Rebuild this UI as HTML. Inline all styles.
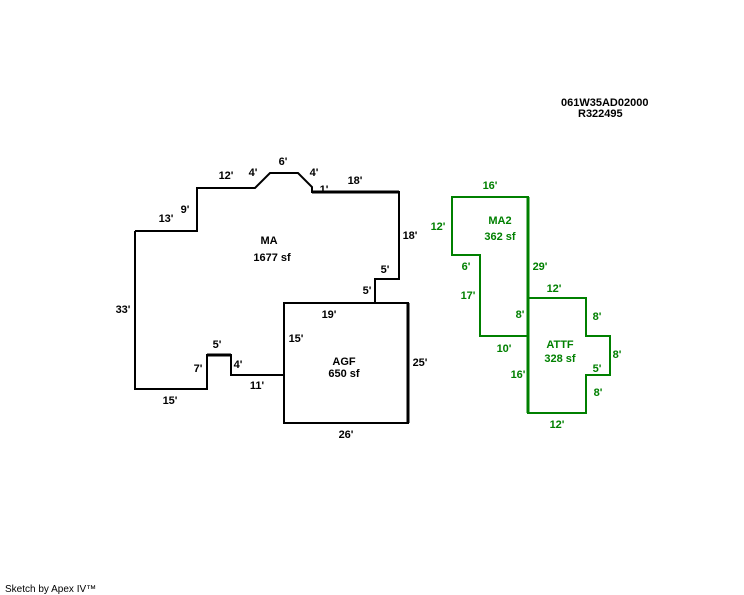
<!DOCTYPE html>
<html><head><meta charset="utf-8"><style>
html,body{margin:0;padding:0;background:#fff;}
svg{display:block;}
text{font-family:"Liberation Sans",Arial,sans-serif;font-weight:bold;font-size:11px;}
.g{fill:#008000;}
</style></head><body>
<svg width="744" height="595" viewBox="0 0 744 595" xmlns="http://www.w3.org/2000/svg">
<g fill="none" stroke="#000" stroke-width="2">
<polyline points="135,231 197,231 197,188 255,188 270,173 298,173 312,187 312,192 399,192 399,279 375,279 375,303"/>
<polyline points="283,375 231,375 231,355 207,355 207,389 135,389 135,231"/>
<rect x="284" y="303" width="124" height="120"/>
</g>
<line x1="312" y1="192" x2="399" y2="192" stroke="#000" stroke-width="3"/>
<line x1="408" y1="303" x2="408" y2="423" stroke="#000" stroke-width="3"/>
<line x1="207" y1="355" x2="231" y2="355" stroke="#000" stroke-width="3"/>
<g fill="none" stroke="#008000" stroke-width="2">
<polygon points="452,197 528,197 528,336 480,336 480,255 452,255"/>
<polygon points="528,298 586,298 586,336 610,336 610,375 586,375 586,413 528,413"/>
</g>
<line x1="528" y1="197" x2="528" y2="413" stroke="#008000" stroke-width="3"/>
<g text-anchor="middle">
<text x="226" y="179">12'</text>
<text x="253" y="176">4'</text>
<text x="283" y="165">6'</text>
<text x="314" y="176">4'</text>
<text x="324" y="193">1'</text>
<text x="355" y="184">18'</text>
<text x="185" y="213">9'</text>
<text x="166" y="222">13'</text>
<text x="269" y="244">MA</text>
<text x="272" y="261">1677 sf</text>
<text x="410" y="239">18'</text>
<text x="385" y="273">5'</text>
<text x="367" y="294">5'</text>
<text x="123" y="313">33'</text>
<text x="329" y="318">19'</text>
<text x="296" y="342">15'</text>
<text x="217" y="348">5'</text>
<text x="198" y="372">7'</text>
<text x="238" y="368">4'</text>
<text x="344" y="365">AGF</text>
<text x="344" y="377">650 sf</text>
<text x="420" y="366">25'</text>
<text x="257" y="389">11'</text>
<text x="170" y="404">15'</text>
<text x="346" y="438">26'</text>
</g>
<g text-anchor="middle" class="g">
<text class="g" x="490" y="189">16'</text>
<text class="g" x="438" y="230">12'</text>
<text class="g" x="500" y="224">MA2</text>
<text class="g" x="500" y="240">362 sf</text>
<text class="g" x="466" y="270">6'</text>
<text class="g" x="540" y="270">29'</text>
<text class="g" x="468" y="299">17'</text>
<text class="g" x="554" y="292">12'</text>
<text class="g" x="520" y="318">8'</text>
<text class="g" x="597" y="320">8'</text>
<text class="g" x="504" y="352">10'</text>
<text class="g" x="560" y="348">ATTF</text>
<text class="g" x="560" y="362">328 sf</text>
<text class="g" x="617" y="358">8'</text>
<text class="g" x="597" y="372">5'</text>
<text class="g" x="518" y="378">16'</text>
<text class="g" x="598" y="396">8'</text>
<text class="g" x="557" y="428">12'</text>
</g>
<text x="561" y="106">061W35AD02000</text>
<text x="578" y="117">R322495</text>
<text x="5" y="592" style="font-weight:normal;font-size:10px">Sketch by Apex IV™</text>
</svg>
</body></html>
